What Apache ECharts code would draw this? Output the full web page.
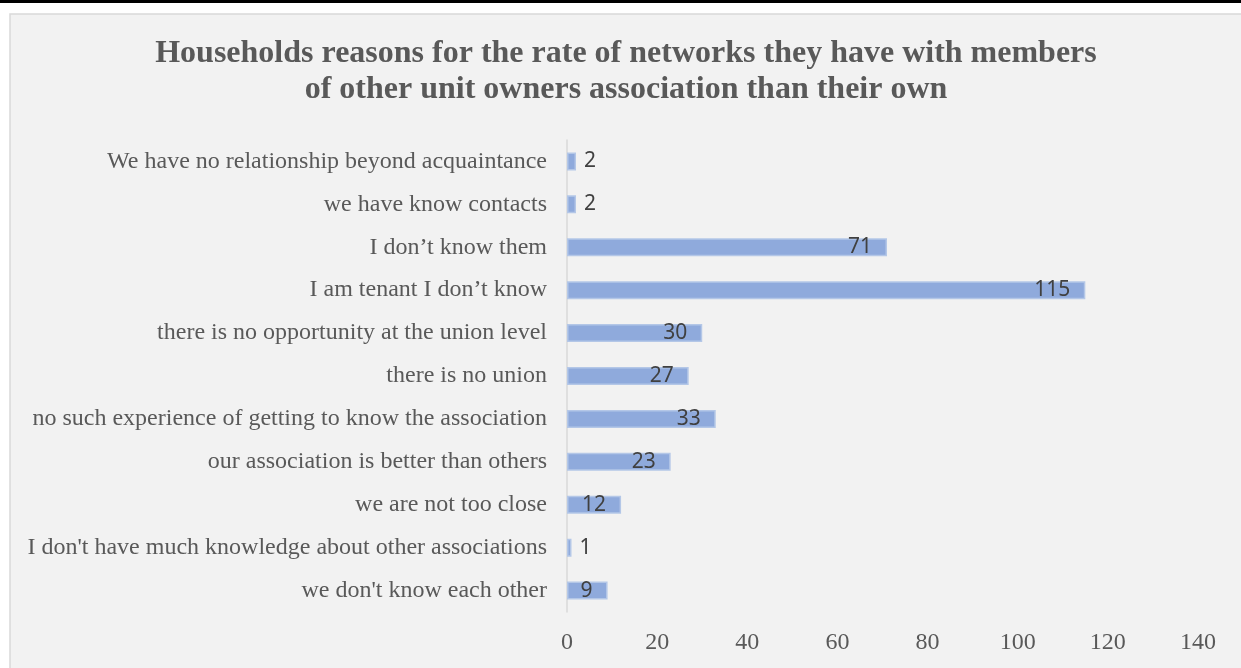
<!DOCTYPE html>
<html>
<head>
<meta charset="utf-8">
<script src="https://cdn.jsdelivr.net/npm/echarts@6/dist/echarts.min.js"></script>
<style>
  html, body { margin: 0; padding: 0; background: #fff; }
  #chart { width: 1241px; height: 668px; }
</style>
</head>
<body>
<div id="chart"></div>
<script>
// categories listed bottom -> top (as on the axis)
var reasons = [
  "we don't know each other",
  "I don't have much knowledge about other associations",
  "we are not too close",
  "our association is better than others",
  "no such experience of getting to know the association",
  "there is no union",
  "there is no opportunity at the union level",
  "I am tenant I don\u2019t know",
  "I don\u2019t know them",
  "we have know contacts",
  "We have no relationship beyond acquaintance"
];
var counts = [9, 1, 12, 23, 33, 27, 30, 115, 71, 2, 2];
var xTicks = [0, 20, 40, 60, 80, 100, 120, 140];

var titleText = 'Households reasons for the rate of networks they have with members\nof other unit owners association than their own';

var myChart = echarts.init(document.getElementById('chart'));

var barData = counts.map(function (v) {
  var small = v < 5;
  return {
    value: v,
    label: {
      position: small ? 'right' : 'insideRight',
      distance: small ? 8 : 15
    }
  };
});

myChart.setOption({
  animation: false,
  backgroundColor: '#ffffff',
  graphic: [
    { type: 'rect', z: -10, shape: { x: 0, y: 0, width: 1241, height: 3 }, style: { fill: '#000' } },
    { type: 'rect', z: -10, shape: { x: 10, y: 14, width: 1240, height: 670 },
      style: { fill: '#f2f2f2', stroke: '#d9d9d9', lineWidth: 1.5 } }
  ],
  title: {
    text: titleText,
    left: 626,
    top: 36,
    padding: 0,
    textAlign: 'center',
    textStyle: {
      fontFamily: 'Liberation Serif',
      fontWeight: 'bold',
      fontSize: 32,
      lineHeight: 36,
      color: '#595959'
    }
  },
  grid: {
    left: 567,
    right: 1241 - 1198,
    top: 140,
    bottom: 668 - 612,
    containLabel: false
  },
  xAxis: {
    type: 'value',
    min: xTicks[0],
    max: xTicks[xTicks.length - 1],
    interval: 20,
    axisLine: { show: false },
    axisTick: { show: false },
    splitLine: { show: false },
    axisLabel: {
      margin: 19,
      fontFamily: 'Liberation Serif',
      fontSize: 24,
      color: '#595959'
    }
  },
  yAxis: {
    type: 'category',
    data: reasons,
    axisLine: { show: true, lineStyle: { color: '#d9d9d9', width: 1.5 } },
    axisTick: { show: false },
    axisLabel: {
      margin: 20,
      fontFamily: 'Liberation Serif',
      fontSize: 24,
      color: '#595959'
    }
  },
  series: [{
    type: 'bar',
    data: barData,
    barWidth: 18,
    itemStyle: {
      color: '#8faadc',
      borderColor: '#b4c7e7',
      borderWidth: 1.5
    },
    label: {
      show: true,
      fontFamily: 'Noto Sans',
      fontSize: 21,
      color: '#404040'
    }
  }]
});
</script>
</body>
</html>
